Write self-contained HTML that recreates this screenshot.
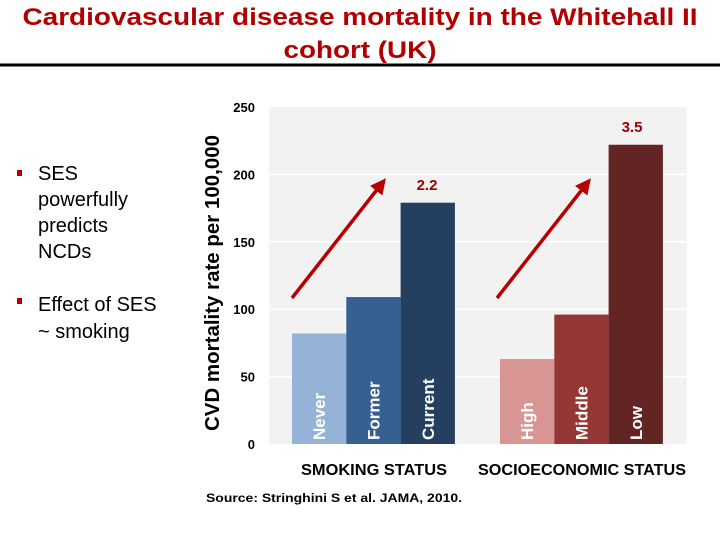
<!DOCTYPE html>
<html><head><meta charset="utf-8"><style>
html,body{margin:0;padding:0;background:#fff;}
svg{display:block;font-family:"Liberation Sans",Arial,sans-serif;}
</style></head><body>
<svg id="chart" width="720" height="540" viewBox="0 0 720 540">
  <text x="360" y="25" text-anchor="middle" font-size="24" font-weight="bold" fill="#b00000" textLength="675" lengthAdjust="spacingAndGlyphs">Cardiovascular disease mortality in the Whitehall II</text>
  <text x="360" y="58" text-anchor="middle" font-size="24" font-weight="bold" fill="#b00000" textLength="153" lengthAdjust="spacingAndGlyphs">cohort (UK)</text>
  <rect x="0" y="63.5" width="720" height="3" fill="#000"/>

  <g font-size="20" fill="#000">
    <rect x="17" y="170" width="5" height="6" fill="#b00000"/>
    <text x="38" y="180">SES</text>
    <text x="38" y="206">powerfully</text>
    <text x="38" y="232">predicts</text>
    <text x="38" y="258">NCDs</text>
    <rect x="17" y="298" width="5" height="6" fill="#b00000"/>
    <text x="38" y="311">Effect  of SES</text>
    <text x="38" y="338">~ smoking</text>
  </g>

  <rect x="269" y="107" width="418" height="337" fill="#f2f2f2"/>
  <g id="grid"></g>
  <g id="yticks"></g>
  <g id="bars"></g>

  <text transform="translate(219,283) rotate(-90)" text-anchor="middle" font-size="20" font-weight="bold" fill="#000" textLength="296" lengthAdjust="spacingAndGlyphs">CVD mortality rate per 100,000</text>

  <text x="374" y="475" text-anchor="middle" font-size="16" font-weight="bold" fill="#000" textLength="146" lengthAdjust="spacingAndGlyphs">SMOKING STATUS</text>
  <text x="582" y="475" text-anchor="middle" font-size="16" font-weight="bold" fill="#000" textLength="208" lengthAdjust="spacingAndGlyphs">SOCIOECONOMIC STATUS</text>

  <defs><marker id="ah" viewBox="0 0 10 10" refX="7" refY="5" markerWidth="4.5" markerHeight="4.5" orient="auto"><path d="M0,0 L10,5 L0,10 z" fill="#b80000"/></marker></defs>
  <line x1="292" y1="298" x2="383" y2="182" stroke="#b80000" stroke-width="3.5" marker-end="url(#ah)"/>
  <line x1="497" y1="298" x2="588" y2="182" stroke="#b80000" stroke-width="3.5" marker-end="url(#ah)"/>
  <text x="427" y="190" text-anchor="middle" font-size="15" font-weight="bold" fill="#a00000">2.2</text>
  <text x="632" y="132" text-anchor="middle" font-size="15" font-weight="bold" fill="#a00000">3.5</text>

  <text x="206" y="502" font-size="12" font-weight="bold" fill="#000" textLength="256" lengthAdjust="spacingAndGlyphs">Source: Stringhini S et al. JAMA, 2010.</text>
</svg>
<script>
const categories = ["Never","Former","Current","High","Middle","Low"];
const values = [82, 109, 179, 63, 96, 222];
const barColors = ["#95b3d7","#366092","#243f60","#d99594","#943634","#632523"];
const yTicks = [0, 50, 100, 150, 200, 250];

const NS = "http://www.w3.org/2000/svg";
const y0 = 444, yTop = 107, yMax = 250;
function yScale(v){ return y0 - (v / yMax) * (y0 - yTop); }
function xBar(i){ return (i < 3 ? 292 : 500) + (i % 3) * 54.3; }
const barW = 54.3;

const grid = document.getElementById('grid');
const yt = document.getElementById('yticks');
yTicks.forEach(t => {
  const y = yScale(t);
  if (t > 0 && t < yMax) {
    const l = document.createElementNS(NS,'line');
    l.setAttribute('x1',269); l.setAttribute('x2',687);
    l.setAttribute('y1',y); l.setAttribute('y2',y);
    l.setAttribute('stroke','#ffffff'); l.setAttribute('stroke-width','1.5');
    
    
    grid.appendChild(l);
  }
  const tx = document.createElementNS(NS,'text');
  tx.setAttribute('x',255); tx.setAttribute('y',y+5);
  tx.setAttribute('text-anchor','end');
  tx.setAttribute('font-size','13'); tx.setAttribute('font-weight','bold');
  tx.textContent = t;
  
  
  yt.appendChild(tx);
});

const bars = document.getElementById('bars');
categories.forEach((c,i) => {
  const x = xBar(i), y = yScale(values[i]);
  const r = document.createElementNS(NS,'rect');
  r.setAttribute('x',x); r.setAttribute('y',y);
  r.setAttribute('width',barW); r.setAttribute('height',y0-y);
  r.setAttribute('fill',barColors[i]);
  
  
  bars.appendChild(r);
  const t = document.createElementNS(NS,'text');
  t.setAttribute('transform','translate('+(x+barW/2+6)+','+(y0-4)+') rotate(-90)');
  t.setAttribute('font-size','17'); t.setAttribute('font-weight','bold');
  t.setAttribute('fill','#ffffff');
  t.textContent = c;
  
  
  bars.appendChild(t);
});
</script>
</body></html>
